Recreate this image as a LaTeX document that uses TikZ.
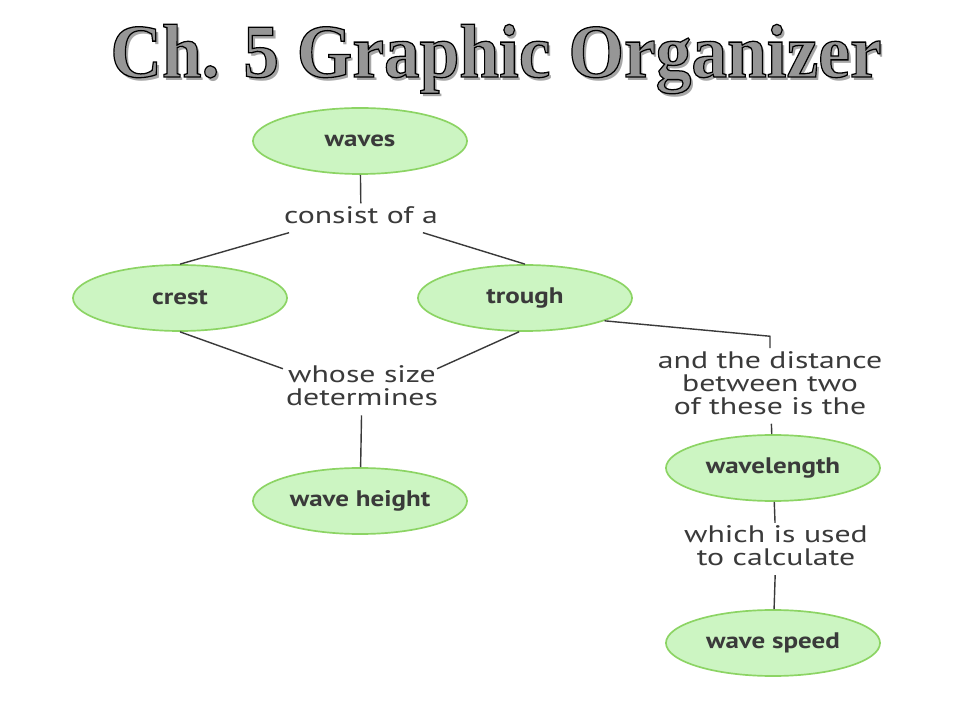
\documentclass[tikz,border=0pt]{standalone}
\usepackage{graphicx}
\usepackage{fontspec}
\newfontfamily\mapfont{PT Sans}
\newfontfamily\titlefont{Liberation Serif}
\usetikzlibrary{calc, positioning, shapes, backgrounds}
\definecolor{bubble}{HTML}{CCF5C2}
\definecolor{rim}{HTML}{8CD464}
\definecolor{ink}{HTML}{3A3A3A}
\definecolor{titlegray}{HTML}{969696}
\newcommand{\outlined}[1]{\special{pdf:literal direct 0 0 0 RG 2 Tr 0.9 w}#1\special{pdf:literal direct 0 Tr}}
\newcommand{\shadowed}[1]{\rlap{\kern2.2pt\raisebox{-2.2pt}{\textcolor{black!35}{#1}}}\outlined{#1}}
\newcommand{\wide}[1]{\scalebox{1.33}[1]{\begin{tabular}{@{}c@{}}#1\end{tabular}}}
\newcommand{\stretched}[1]{\scalebox{1.2}[1]{#1}}
\tikzstyle{Node}=[ellipse, draw=rim, fill=bubble, line width=1.2pt, minimum width=5.35cm, minimum height=1.65cm, font=\mapfont\bfseries\fontsize{16}{18}\selectfont, text=ink]
\tikzstyle{Label}=[inner sep=2pt, font=\mapfont\fontsize{17}{14.8}\selectfont, text=ink]
\tikzstyle{Link}=[draw=ink, line width=1pt]

\begin{document}
\begin{tikzpicture}[x=0.025cm, y=-0.025cm]
			\useasboundingbox (0,0) rectangle (960,720);
			% title
			\node[anchor=base, font=\titlefont\bfseries\fontsize{54}{60}\selectfont, text=titlegray] (t0) at (496,77) {\scalebox{0.94}[1]{\shadowed{Ch. 5 Graphic Organizer}}};

			\node[Node] (1) at (360,141) {\stretched{waves}};
			\node[Node] (2) at (180,298) {\stretched{crest}};
			\node[Node] (3) at (525,298) {\stretched{trough}};
			\node[Node] (4) at (360,501) {\stretched{wave height}};
			\node[Node] (5) at (773,468) {\stretched{wavelength}};
			\node[Node] (6) at (773,643) {\stretched{wave speed}};

			\node[Label] (l1) at (361,218) {\wide{consist of a}};
			\node[Label] (l2) at (362,389) {\wide{whose size\\determines}};
			\node[Label] (l3) at (770,386) {\wide{and the distance\\between two\\of these is the}};
			\node[Label] (l4) at (776,549) {\wide{which is used\\to calculate}};
			\coordinate (k) at ($(l3.north)+(0,-12)$);

			\path[Link] (1) edge (l1)
			($(l1.south west)+(8,0)$) edge (2.north)
			($(l1.south east)+(-18,0)$) edge (3.north)
			(2.south) edge ($(l2.north west)+(0,6)$)
			(3.260) edge ($(l2.north east)+(-4,6)$)
			(l2) edge (4)
			(l3) edge (5)
			(5) edge (l4)
			(l4) edge (6)
			;
			\draw[Link] (3.-16) -- (k) -- (l3.north);
		\end{tikzpicture}
\end{document}
